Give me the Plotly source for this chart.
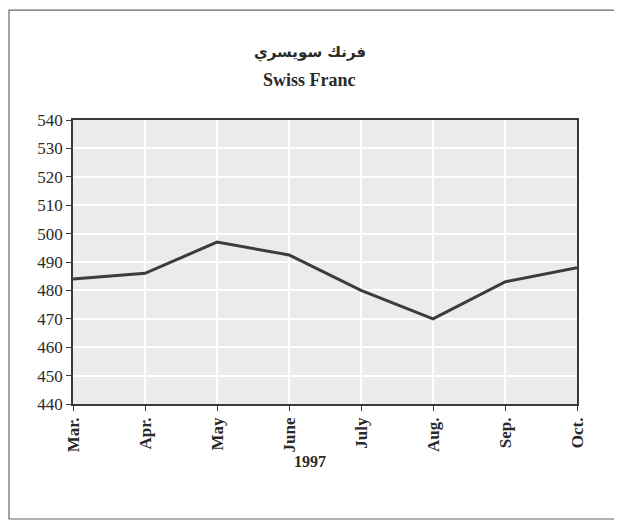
import plotly.graph_objects as go

months = ["Mar.", "Apr.", "May", "June", "July", "Aug.", "Sep.", "Oct."]
rates = [484, 486, 497, 492.5, 480, 470, 483, 488]
y_ticks = list(range(440, 541, 10))

title_ar = "فرنك سويسري"
title_en = "Swiss Franc"
x_title = "1997"

serif = "Liberation Serif, Times New Roman, serif"
axis_color = "#3a3a3a"
text_color = "#2a2a2a"

fig = go.Figure()

fig.add_trace(go.Scatter(
    x=months,
    y=rates,
    mode="lines",
    line=dict(color="#3c3c3c", width=3),
    showlegend=False
))

# page body has an 8px margin, so the figure is shifted by 8px
fig.update_layout(
    width=614,
    height=516,
    margin=dict(l=65, r=45, t=112, b=120),
    paper_bgcolor="white",
    plot_bgcolor="#e9ecea",
    font=dict(family=serif, color=text_color),
    xaxis=dict(
        type="category",
        range=[0, len(months) - 1],
        tickangle=-90,
        tickfont=dict(family=serif, size=17, color=text_color),
        ticks="outside", ticklen=5, tickcolor=axis_color,
        showline=True, linecolor=axis_color, linewidth=1.5, mirror=True,
        showgrid=True, gridcolor="white", gridwidth=1.5,
        zeroline=False
    ),
    yaxis=dict(
        range=[440, 540],
        tickvals=y_ticks,
        tickfont=dict(family=serif, size=17, color=text_color),
        ticks="outside", ticklen=5, tickcolor=axis_color,
        showline=True, linecolor=axis_color, linewidth=1.5, mirror=True,
        showgrid=True, gridcolor="white", gridwidth=1.5,
        zeroline=False
    ),
    annotations=[
        dict(text="<b>" + title_ar + "</b>", xref="paper", yref="paper",
             x=0.47, y=1.239, yanchor="middle", showarrow=False,
             font=dict(family="DejaVu Sans, serif", size=15, color=text_color)),
        dict(text="<b>" + title_en + "</b>", xref="paper", yref="paper",
             x=0.47, y=1.141, yanchor="middle", showarrow=False,
             font=dict(family=serif, size=18, color=text_color)),
        dict(text="<b>" + x_title + "</b>", xref="paper", yref="paper",
             x=0.47, y=-0.204, yanchor="middle", showarrow=False,
             font=dict(family=serif, size=16, color=text_color)),
    ],
    shapes=[
        dict(type="rect", xref="paper", yref="paper",
             x0=-0.127, x1=1.083, y0=-0.405, y1=1.387,
             line=dict(color="#666666", width=1.2))
    ]
)

fig.update_xaxes(tickprefix="<b>", ticksuffix="</b>")
fig.update_yaxes(tickprefix="<b>", ticksuffix="</b>")

fig.write_html("out.html")
